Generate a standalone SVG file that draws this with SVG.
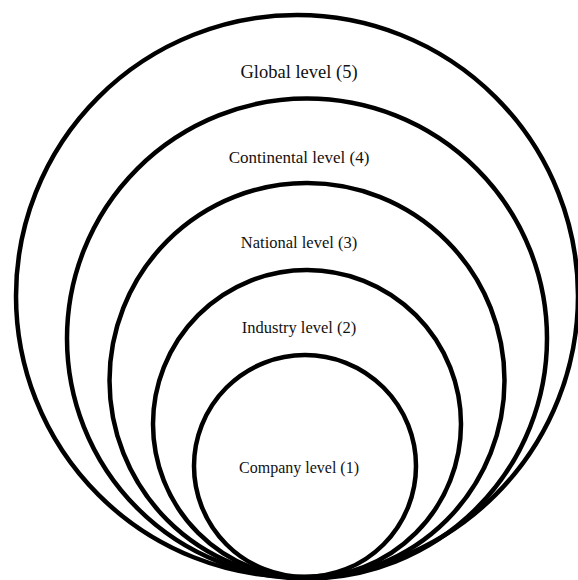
<svg xmlns="http://www.w3.org/2000/svg" width="578" height="580" viewBox="0 0 578 580">
  <style>
    .ring { fill: none; stroke: #000; stroke-width: 4.5; }
    .label { font-family: "Liberation Serif", "Times New Roman", serif; font-size: 17px; fill: #111; text-anchor: middle; }
  </style>
  <rect width="578" height="580" fill="#fff"/>
  <g id="global">
    <circle class="ring" cx="297" cy="296" r="281"/>
    <text class="label" x="299" y="78" style="font-size:18.5px">Global level (5)</text>
  </g>
  <g id="continental">
    <circle class="ring" cx="307" cy="338.5" r="240"/>
    <text class="label" x="299" y="163">Continental level (4)</text>
  </g>
  <g id="national">
    <circle class="ring" cx="307" cy="380.5" r="197.5"/>
    <text class="label" x="299" y="248" style="font-size:16.5px">National level (3)</text>
  </g>
  <g id="industry">
    <circle class="ring" cx="307" cy="424" r="154"/>
    <text class="label" x="299" y="333" style="font-size:16.5px">Industry level (2)</text>
  </g>
  <g id="company">
    <circle class="ring" cx="305" cy="466" r="111"/>
    <text class="label" x="299" y="473" style="font-size:16px">Company level (1)</text>
  </g>
</svg>
